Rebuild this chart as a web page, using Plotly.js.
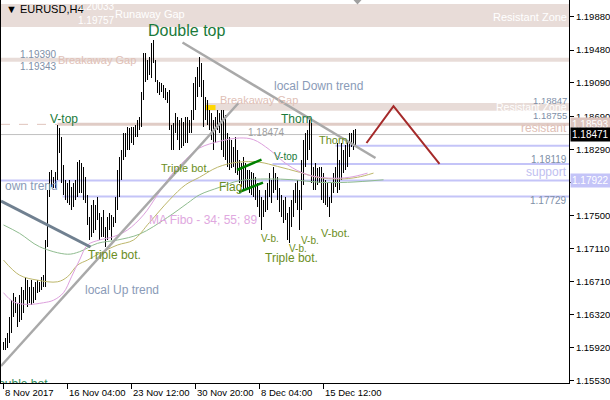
<!DOCTYPE html>
<html>
<head>
<meta charset="utf-8">
<script src="https://cdn.plot.ly/plotly-3.0.1.min.js"></script>
<style>html,body{margin:0;padding:0;background:#fff;}#chart{width:610px;height:400px;}
#chart .ohlc path{shape-rendering:crispEdges;}</style>
</head>
<body>
<div id="chart"></div>
<script>
// ---- data (EURUSD H4) ----
const xTickIdx  = [0, 32, 64, 96, 128, 160];
const xTickText = ['8 Nov 2017', '16 Nov 04:00', '23 Nov 12:00', '30 Nov 20:00', '8 Dec 04:00', '15 Dec 12:00'];
const yTickVals = [1.19880, 1.19480, 1.19090, 1.18690, 1.18290, 1.17900, 1.17500, 1.17110, 1.16710, 1.16320, 1.15920, 1.15530];
const yTickText = ['1.19880', '1.19480', '1.19090', '1.18690', '1.18290', '', '1.17500', '1.17110', '1.16710', '1.16320', '1.15920', '1.15530'];

const barOpen = [
1.1592,1.1595,1.1600,1.1605,1.1625,1.1645,1.1650,1.1640,1.1630,1.1650,
1.1640,1.1655,1.1670,1.1650,1.1660,1.1655,1.1660,1.1668,1.1665,1.1670,
1.1672,1.1675,1.1715,1.1778,1.1795,1.1790,1.1792,1.1798,1.1850,1.1840,
1.1800,1.1785,1.1775,1.1780,1.1770,1.1765,1.1785,1.1790,1.1810,1.1800,
1.1805,1.1790,1.1775,1.1745,1.1735,1.1758,1.1740,1.1760,1.1750,1.1730,
1.1740,1.1730,1.1735,1.1745,1.1740,1.1745,1.1742,1.1765,1.1800,1.1790,
1.1825,1.1845,1.1825,1.1850,1.1835,1.1852,1.1840,1.1855,1.1860,1.1865,
1.1892,1.1940,1.1915,1.1930,1.1922,1.1950,1.1940,1.1915,1.1900,1.1905,
1.1900,1.1895,1.1900,1.1890,1.1858,1.1840,1.1855,1.1865,1.1845,1.1860,
1.1835,1.1858,1.1842,1.1862,1.1852,1.1872,1.1905,1.1880,1.1922,1.1910,
1.1900,1.1870,1.1885,1.1865,1.1870,1.1845,1.1860,1.1865,1.1858,1.1870,
1.1835,1.1860,1.1822,1.1840,1.1810,1.1835,1.1815,1.1805,1.1820,1.1795,
1.1810,1.1790,1.1805,1.1785,1.1800,1.1780,1.1790,1.1775,1.1785,1.1755,
1.1765,1.1760,1.1775,1.1785,1.1790,1.1770,1.1800,1.1785,1.1775,1.1760,
1.1770,1.1750,1.1765,1.1725,1.1750,1.1765,1.1775,1.1770,1.1785,1.1760,
1.1810,1.1835,1.1815,1.1845,1.1855,1.1795,1.1800,1.1790,1.1800,1.1795,
1.1775,1.1795,1.1770,1.1785,1.1755,1.1785,1.1780,1.1805,1.1790,1.1810,
1.1825,1.1810,1.1830,1.1845,1.1825,1.1845,1.1835];
const barHigh = [
1.1599,1.1604,1.1610,1.1629,1.1649,1.1658,1.1653,1.1646,1.1655,1.1665,
1.1661,1.1677,1.1673,1.1665,1.1673,1.1665,1.1671,1.1673,1.1671,1.1677,
1.1679,1.1721,1.1781,1.1802,1.1805,1.1796,1.1802,1.1858,1.1855,1.1844,
1.1811,1.1793,1.1789,1.1793,1.1784,1.1789,1.1793,1.1814,1.1817,1.1813,
1.1808,1.1796,1.1775,1.1749,1.1763,1.1769,1.1763,1.1772,1.1753,1.1749,
1.1757,1.1737,1.1749,1.1753,1.1751,1.1749,1.1772,1.1805,1.1820,1.1829,
1.1849,1.1849,1.1856,1.1855,1.1856,1.1856,1.1858,1.1864,1.1868,1.1898,
1.1945,1.1945,1.1936,1.1940,1.1957,1.1960,1.1936,1.1912,1.1910,1.1909,
1.1906,1.1903,1.1898,1.1900,1.1858,1.1861,1.1873,1.1868,1.1864,1.1867,
1.1862,1.1868,1.1868,1.1864,1.1876,1.1909,1.1916,1.1928,1.1940,1.1933,
1.1912,1.1892,1.1888,1.1876,1.1873,1.1864,1.1868,1.1876,1.1873,1.1876,
1.1876,1.1870,1.1849,1.1844,1.1841,1.1832,1.1844,1.1829,1.1817,1.1813,
1.1820,1.1813,1.1805,1.1805,1.1802,1.1801,1.1796,1.1789,1.1781,1.1772,
1.1769,1.1781,1.1789,1.1801,1.1793,1.1808,1.1801,1.1796,1.1783,1.1775,
1.1769,1.1772,1.1753,1.1760,1.1769,1.1781,1.1789,1.1793,1.1781,1.1817,
1.1841,1.1849,1.1853,1.1868,1.1861,1.1808,1.1813,1.1807,1.1808,1.1808,
1.1801,1.1793,1.1789,1.1772,1.1789,1.1801,1.1808,1.1837,1.1817,1.1837,
1.1829,1.1835,1.1841,1.1849,1.1849,1.1853,1.1854];
const barLow = [
1.1589,1.1589,1.1592,1.1598,1.1610,1.1629,1.1634,1.1617,1.1623,1.1625,
1.1634,1.1649,1.1641,1.1646,1.1643,1.1646,1.1649,1.1658,1.1659,1.1661,
1.1665,1.1665,1.1713,1.1772,1.1784,1.1783,1.1783,1.1793,1.1825,1.1789,
1.1775,1.1769,1.1765,1.1763,1.1757,1.1760,1.1769,1.1772,1.1777,1.1777,
1.1769,1.1765,1.1739,1.1721,1.1725,1.1729,1.1733,1.1745,1.1721,1.1725,
1.1725,1.1713,1.1721,1.1733,1.1721,1.1737,1.1741,1.1757,1.1772,1.1793,
1.1817,1.1820,1.1829,1.1829,1.1837,1.1835,1.1844,1.1844,1.1853,1.1856,
1.1888,1.1910,1.1912,1.1918,1.1915,1.1933,1.1910,1.1897,1.1894,1.1898,
1.1891,1.1888,1.1885,1.1853,1.1829,1.1829,1.1849,1.1841,1.1829,1.1831,
1.1833,1.1837,1.1837,1.1849,1.1849,1.1864,1.1876,1.1892,1.1904,1.1892,
1.1856,1.1864,1.1858,1.1853,1.1841,1.1829,1.1837,1.1853,1.1849,1.1829,
1.1820,1.1817,1.1808,1.1805,1.1807,1.1808,1.1801,1.1799,1.1789,1.1784,
1.1781,1.1783,1.1781,1.1777,1.1775,1.1772,1.1769,1.1760,1.1749,1.1733,
1.1749,1.1754,1.1757,1.1772,1.1765,1.1777,1.1781,1.1769,1.1754,1.1749,
1.1741,1.1745,1.1721,1.1717,1.1737,1.1749,1.1765,1.1757,1.1733,1.1757,
1.1787,1.1808,1.1817,1.1829,1.1789,1.1781,1.1781,1.1787,1.1789,1.1769,
1.1765,1.1763,1.1760,1.1749,1.1765,1.1777,1.1784,1.1777,1.1781,1.1793,
1.1801,1.1805,1.1808,1.1820,1.1832,1.1829,1.1835];
const barClose = [
1.1595,1.1600,1.1605,1.1625,1.1645,1.1650,1.1640,1.1630,1.1650,1.1640,
1.1655,1.1670,1.1650,1.1660,1.1655,1.1660,1.1668,1.1665,1.1670,1.1672,
1.1675,1.1715,1.1778,1.1795,1.1790,1.1792,1.1798,1.1850,1.1840,1.1800,
1.1785,1.1775,1.1780,1.1770,1.1765,1.1785,1.1790,1.1810,1.1800,1.1805,
1.1790,1.1775,1.1745,1.1735,1.1758,1.1740,1.1760,1.1750,1.1730,1.1740,
1.1730,1.1735,1.1745,1.1740,1.1745,1.1742,1.1765,1.1800,1.1790,1.1825,
1.1845,1.1825,1.1850,1.1835,1.1852,1.1840,1.1855,1.1860,1.1865,1.1892,
1.1940,1.1915,1.1930,1.1922,1.1950,1.1940,1.1915,1.1900,1.1905,1.1900,
1.1895,1.1900,1.1890,1.1858,1.1840,1.1855,1.1865,1.1845,1.1860,1.1835,
1.1858,1.1842,1.1862,1.1852,1.1872,1.1905,1.1880,1.1922,1.1910,1.1900,
1.1870,1.1885,1.1865,1.1870,1.1845,1.1860,1.1865,1.1858,1.1870,1.1835,
1.1860,1.1822,1.1840,1.1810,1.1835,1.1815,1.1805,1.1820,1.1795,1.1810,
1.1790,1.1805,1.1785,1.1800,1.1780,1.1790,1.1775,1.1785,1.1755,1.1765,
1.1760,1.1775,1.1785,1.1790,1.1770,1.1800,1.1785,1.1775,1.1760,1.1770,
1.1750,1.1765,1.1725,1.1750,1.1765,1.1775,1.1770,1.1785,1.1760,1.1810,
1.1835,1.1815,1.1845,1.1855,1.1795,1.1800,1.1790,1.1800,1.1795,1.1775,
1.1795,1.1770,1.1785,1.1755,1.1785,1.1780,1.1805,1.1790,1.1810,1.1825,
1.1810,1.1830,1.1845,1.1825,1.1845,1.1835,1.1847];

// MA Fibo 34 / 55 / 89 (read at sample bars)
const ma34Idx = [0,5,12,20,25,30,34,38,42,48,55,62,70,77,84,91,98,108,118,125,133,142,152,163,173,182];
const ma34Val = [1.1658,1.1647,1.1644,1.1646,1.1649,1.1658,1.1677,1.1697,1.1715,1.1721,1.1725,1.1733,1.1751,1.1775,1.1799,1.1817,1.1831,1.1839,1.1843,1.1841,1.1829,1.1811,1.1799,1.1795,1.1796,1.1801];
const ma55Idx = [0,8,17,27,32,37,42,48,57,65,73,83,91,98,107,117,128,137,148,157,168,177,185];
const ma55Val = [1.1697,1.1679,1.1673,1.1671,1.1677,1.1691,1.1697,1.1705,1.1715,1.1721,1.1742,1.1769,1.1787,1.1796,1.1808,1.1814,1.1814,1.1809,1.1802,1.1796,1.1794,1.1796,1.1801];
const ma89Idx = [0,8,18,32,38,47,57,68,82,92,98,108,118,132,145,158,172,190];
const ma89Val = [1.1739,1.1729,1.1713,1.1704,1.1707,1.1717,1.1721,1.1728,1.1748,1.1765,1.1775,1.1784,1.1792,1.1794,1.1793,1.1790,1.1790,1.1793];

const bidPrice = 1.18471;

// ---- build ----
const barIdx = barClose.map((_, i) => i);
const FONT = 'Liberation Sans, Arial, sans-serif';

const traces = [
  {type: 'ohlc', x: barIdx, open: barOpen, high: barHigh, low: barLow, close: barClose,
   increasing: {line: {color: '#000000', width: 1}}, decreasing: {line: {color: '#000000', width: 1}},
   tickwidth: 0, hoverinfo: 'skip', showlegend: false},
  {type: 'scatter', mode: 'lines', x: ma89Idx, y: ma89Val, line: {color: '#8fbc8f', width: 1, shape: 'spline'}, hoverinfo: 'skip', showlegend: false},
  {type: 'scatter', mode: 'lines', x: ma55Idx, y: ma55Val, line: {color: '#bdb76b', width: 1, shape: 'spline'}, hoverinfo: 'skip', showlegend: false},
  {type: 'scatter', mode: 'lines', x: ma34Idx, y: ma34Val, line: {color: '#dda0dd', width: 1, shape: 'spline'}, hoverinfo: 'skip', showlegend: false},
  {type: 'scatter', mode: 'text', x: [-7], y: [1.15478], text: ['Double bot.'], textposition: 'middle right',
   textfont: {family: FONT, size: 12, color: '#2e8b57'}, cliponaxis: true, hoverinfo: 'skip', showlegend: false}
];

const BAND = '#e8dcd8';
const BLUE = '#c4c4f8';
const GRAY = '#a9a9a9';
const XR = 282.75;
const shapes = [
  {type: 'rect', xref: 'paper', x0: 0, x1: 1, y0: 1.19757, y1: 1.20033, fillcolor: BAND, line: {width: 0}, layer: 'below'},
  {type: 'rect', xref: 'paper', x0: 0, x1: 1, y0: 1.19343, y1: 1.19390, fillcolor: BAND, line: {width: 0}, layer: 'below'},
  {type: 'rect', x0: 101, x1: XR, y0: 1.18755, y1: 1.18847, fillcolor: BAND, line: {width: 0}, layer: 'below'},
  {type: 'rect', x0: 101, x1: 106, y0: 1.18764, y1: 1.18824, fillcolor: '#ffd700', line: {width: 0}, layer: 'below'},
  {type: 'line', x0: -1.25, x1: 27, y0: 1.18593, y1: 1.18593, line: {color: '#e0c4bc', width: 1, dash: 'dash'}, layer: 'below'},
  {type: 'line', x0: 27, x1: XR, y0: 1.18593, y1: 1.18593, line: {color: '#e0ccc6', width: 3}, layer: 'below'},
  {type: 'line', xref: 'paper', x0: 0, x1: 1, y0: bidPrice, y1: bidPrice, line: {color: '#c0c0c0', width: 1}, layer: 'below'},
  {type: 'line', x0: 166, x1: XR, y0: 1.18337, y1: 1.18337, line: {color: BLUE, width: 2}, layer: 'below'},
  {type: 'line', x0: 134.5, x1: XR, y0: 1.18119, y1: 1.18119, line: {color: BLUE, width: 2}, layer: 'below'},
  {type: 'line', xref: 'paper', x0: 0, x1: 1, y0: 1.17922, y1: 1.17922, line: {color: BLUE, width: 2}, layer: 'below'},
  {type: 'line', x0: 29.5, x1: XR, y0: 1.17729, y1: 1.17729, line: {color: BLUE, width: 2}, layer: 'below'},
  // trend lines
  {type: 'line', x0: 89.5, y0: 1.19572, x1: 186, y1: 1.18190, line: {color: GRAY, width: 2.5}},
  {type: 'line', x0: -1.25, y0: 1.15703, x1: 117.5, y1: 1.18848, line: {color: GRAY, width: 2.5}},
  {type: 'line', x0: -1.25, y0: 1.17676, x1: 43.5, y1: 1.17126, line: {color: '#708090', width: 3}},
  // flag
  {type: 'line', x0: 116.75, y0: 1.18047, x1: 129, y1: 1.18172, line: {color: '#008000', width: 2.5}},
  {type: 'line', x0: 117.75, y0: 1.17784, x1: 129.75, y1: 1.17897, line: {color: '#008000', width: 2.5}},
  // projection
  {type: 'path', path: 'M 181.5 1.18370 L 195 1.18812 L 218 1.18119', line: {color: '#a52a2a', width: 2}},
  // chart shift marker
  {type: 'path', path: 'M 175 1.2008 L 179 1.2008 L 177 1.20025 Z', fillcolor: '#a0a0a0', line: {width: 0}}
];

function lab(text, x, y, color, size, anchor, extra) {
  return Object.assign({text: text, x: x, y: y, xref: 'x', yref: 'y', showarrow: false,
    xanchor: anchor || 'left', yanchor: 'middle', font: {family: FONT, size: size, color: color}}, extra || {});
}
const GTXT = '#1a7a3a';
const OTXT = '#6b8e23';
const NUM = '#8090a8';
const PINKT = '#e0c0b6';
const annotations = [
  {text: '▼ EURUSD,H4', xref: 'paper', yref: 'paper', x: 0.006, y: 0.976, xanchor: 'left', yanchor: 'middle', showarrow: false,
   font: {family: FONT, size: 11, color: '#000'}},
  lab('1.20033', 36, 1.2000, '#ffffff', 10),
  lab('1.19757', 36, 1.1983, '#ffffff', 10),
  lab('Runaway Gap', 54.5, 1.1991, '#ffffff', 11),
  lab('Resistant Zone', XR - 0.25, 1.1988, '#ffffff', 11, 'right'),
  lab('Double top', 71, 1.1971, GTXT, 16),
  lab('1.19390', 7, 1.1943, NUM, 10),
  lab('1.19343', 7, 1.1929, NUM, 10),
  lab('Breakaway Gap', 26, 1.1936, PINKT, 11),
  lab('local Down trend', 134, 1.1905, '#8a9bb8', 12),
  lab('Breakaway Gap', 107, 1.1888, PINKT, 11),
  lab('1.18847', XR - 0.25, 1.18875, NUM, 9.5, 'right'),
  lab('Resistant Zone', XR - 0.25, 1.1880, '#ffffff', 10.5, 'right'),
  lab('1.18755', XR - 0.25, 1.18695, NUM, 9.5, 'right'),
  lab('Thorn', 137.5, 1.1866, GTXT, 12),
  lab('V-top', 22, 1.1866, GTXT, 12),
  lab('resistant', XR - 0.25, 1.1855, PINKT, 12, 'right'),
  lab('1.18474', 121, 1.1849, '#a0a0a0', 10),
  lab('Thorn', 156.5, 1.1841, OTXT, 11),
  lab('V-top', 134, 1.1821, GTXT, 10),
  lab('1.18119', XR - 0.25, 1.1817, NUM, 10, 'right'),
  lab('Triple bot.', 77.5, 1.1807, OTXT, 11),
  lab('support', XR - 0.25, 1.1802, '#c0c0f0', 12, 'right'),
  lab('own trend', -0.5, 1.1786, '#8a9bb8', 12),
  lab('Flag', 106.5, 1.1784, OTXT, 12),
  lab('1.17729', XR - 0.25, 1.1768, NUM, 10, 'right'),
  lab('MA Fibo - 34; 55; 89', 71.5, 1.1745, '#e0a8e0', 12),
  lab('V-b.', 127.5, 1.1723, OTXT, 10),
  lab('V-b.', 141.5, 1.1711, OTXT, 10),
  lab('V-b.', 147.5, 1.1721, OTXT, 10),
  lab('V-bot.', 157.5, 1.1729, OTXT, 11),
  lab('Triple bot.', 41, 1.1703, OTXT, 12),
  lab('Triple bot.', 129.5, 1.1699, OTXT, 12),
  lab('local Up trend', 39.5, 1.1661, '#8a9bb8', 12),
  // price labels on the axis
  {text: '1.18593', xref: 'paper', yref: 'y', x: 1, y: 1.18593, xanchor: 'left', yanchor: 'middle', xshift: 1, showarrow: false,
   bgcolor: '#dcc4be', borderpad: 1, font: {family: FONT, size: 10, color: '#ffffff'}},
  {text: '1.18471', xref: 'paper', yref: 'y', x: 1, y: bidPrice, xanchor: 'left', yanchor: 'middle', xshift: 1, showarrow: false,
   bgcolor: '#000000', borderpad: 1, font: {family: FONT, size: 10, color: '#ffffff'}},
  {text: '1.17922', xref: 'paper', yref: 'y', x: 1, y: 1.17922, xanchor: 'left', yanchor: 'middle', xshift: 1, showarrow: false,
   bgcolor: '#c4c4f8', borderpad: 1, font: {family: FONT, size: 10, color: '#ffffff'}}
];
xTickIdx.forEach((v, k) => annotations.push({text: xTickText[k], xref: 'x', yref: 'paper', x: v, y: 0,
  xanchor: 'left', yanchor: 'top', xshift: -0.5, yshift: -2, showarrow: false, font: {family: FONT, size: 9.5, color: '#000'}}));

const layout = {
  width: 610, height: 400,
  margin: {l: 1, r: 41, t: 0, b: 17, pad: 0},
  paper_bgcolor: '#ffffff', plot_bgcolor: '#ffffff',
  showlegend: false,
  xaxis: {type: 'linear', range: [-1.25, XR], showgrid: false, zeroline: false, rangeslider: {visible: false},
    showline: true, linecolor: '#000', linewidth: 1, ticks: 'outside', ticklen: 5, tickcolor: '#000',
    tickvals: xTickIdx, showticklabels: false, fixedrange: true},
  yaxis: {range: [1.1550, 1.2008], side: 'right', showgrid: false, zeroline: false,
    showline: true, mirror: true, linecolor: '#000', linewidth: 1, ticks: 'outside', ticklen: 4, tickcolor: '#000',
    tickvals: yTickVals, ticktext: yTickText,
    tickfont: {family: FONT, size: 9.5, color: '#000'}, fixedrange: true},
  shapes: shapes,
  annotations: annotations
};

Plotly.newPlot('chart', traces, layout, {staticPlot: true, displayModeBar: false});
</script>
</body>
</html>
